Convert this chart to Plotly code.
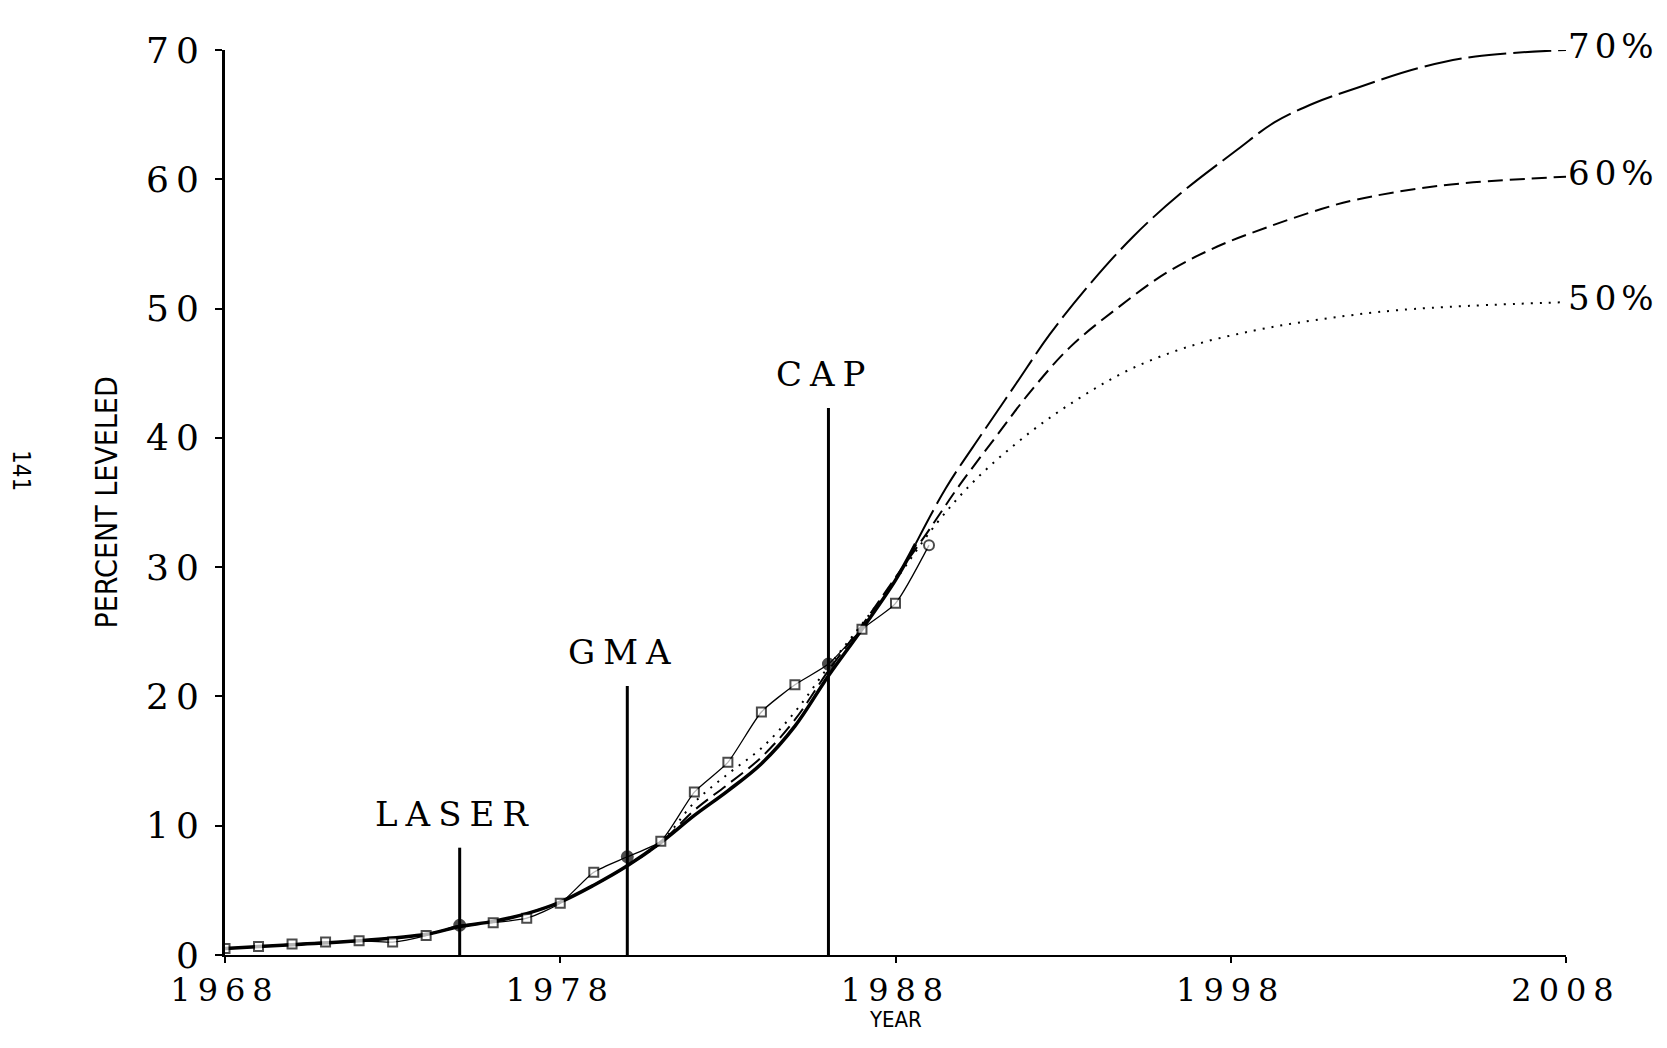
import plotly.graph_objects as go

# ---- data ----
data_years = list(range(1968, 1990))
data_pct = [0.5, 0.65, 0.85, 1.0, 1.1, 1.0, 1.5, 2.3, 2.5, 2.85, 4.0,
            6.4, 7.6, 8.8, 12.6, 14.9, 18.8, 20.9, 22.5, 25.2, 27.2, 31.7]

event_names = ["LASER", "GMA", "CAP"]
event_years = [1975, 1980, 1986]
event_tops = [8.3, 20.8, 42.3]

fit70_years = [1968, 1970, 1972, 1974, 1975, 1976, 1977, 1978, 1979, 1980, 1981,
               1982, 1983, 1984, 1985, 1986, 1987, 1988, 1988.6, 1989.5, 1990.6,
               1991.6, 1992.6, 1993.8, 1995.1, 1996.5, 1998.2, 1999.3, 2000.5,
               2001.8, 2003.6, 2005.3, 2008]
fit70_pct = [0.5, 0.8, 1.1, 1.6, 2.2, 2.6, 3.2, 4.1, 5.4, 6.9, 8.7,
             10.8, 12.7, 14.8, 17.7, 21.6, 25.2, 29.0, 31.8, 36.1, 40.4,
             44.2, 48.0, 51.9, 55.6, 58.9, 62.3, 64.4, 65.9,
             67.1, 68.6, 69.5, 70.0]
fit70_solid_end = 1988.6

fit60_years = [1968, 1970, 1972, 1974, 1975, 1976, 1977, 1978, 1979, 1980, 1981,
               1982, 1983, 1984, 1985, 1986, 1987, 1988, 1988.9, 1989.9, 1991.0,
               1992.0, 1993.2, 1994.6, 1996.1, 1997.6, 1999.1, 2000.7, 2001.7,
               2004.2, 2008]
fit60_pct = [0.5, 0.8, 1.1, 1.6, 2.2, 2.6, 3.2, 4.1, 5.4, 6.9, 8.7,
             11.2, 13.2, 15.3, 18.2, 22.0, 25.5, 29.2, 32.5, 36.3, 40.1,
             43.5, 47.0, 50.0, 52.8, 54.8, 56.3, 57.7, 58.4,
             59.5, 60.2]

fit50_years = [1968, 1970, 1972, 1974, 1975, 1976, 1977, 1978, 1979, 1980, 1981,
               1982, 1983, 1984, 1985, 1986, 1987, 1988, 1989.2, 1990.4, 1992.0,
               1993.5, 1995.0, 1996.8, 1998.7, 2000.5, 2003.1, 2008]
fit50_pct = [0.5, 0.8, 1.1, 1.6, 2.2, 2.6, 3.2, 4.1, 5.4, 6.9, 8.7,
             11.8, 14.0, 16.0, 18.8, 22.3, 25.6, 29.0, 33.3, 36.8, 40.4,
             43.1, 45.3, 47.1, 48.3, 49.1, 49.9, 50.5]

ceiling_labels = ["70%", "60%", "50%"]
x_ticks = [1968, 1978, 1988, 1998, 2008]
y_ticks = [0, 10, 20, 30, 40, 50, 60, 70]

SERIF = "DejaVu Serif, Liberation Serif, serif"
NARROW = "Liberation Sans Narrow, DejaVu Sans Condensed, Roboto, sans-serif"


def spaced(text, px):
    return '<span style="letter-spacing:%dpx">%s</span>' % (px, text)


fig = go.Figure()

# forecast curves
fig.add_trace(go.Scatter(x=fit50_years, y=fit50_pct, mode="lines",
                         line=dict(color="black", width=2, dash="2px,7px", shape="spline"),
                         hoverinfo="skip"))
fig.add_trace(go.Scatter(x=fit60_years, y=fit60_pct, mode="lines",
                         line=dict(color="black", width=2, dash="15px,7px", shape="spline"),
                         hoverinfo="skip"))
i_split = fit70_years.index(fit70_solid_end)
fig.add_trace(go.Scatter(x=fit70_years[i_split:], y=fit70_pct[i_split:], mode="lines",
                         line=dict(color="black", width=2, dash="38px,7px", shape="spline"),
                         hoverinfo="skip", cliponaxis=False))
fig.add_trace(go.Scatter(x=fit70_years[:i_split + 1], y=fit70_pct[:i_split + 1], mode="lines",
                         line=dict(color="black", width=3.5, shape="spline"),
                         hoverinfo="skip"))

# event vertical lines
for name, yr, top in zip(event_names, event_years, event_tops):
    fig.add_trace(go.Scatter(x=[yr, yr], y=[0, top], mode="lines",
                             line=dict(color="black", width=3), hoverinfo="skip"))
    fig.add_annotation(x=yr, y=top, text=spaced(name, 8), showarrow=False,
                       xanchor="center", yanchor="bottom", yshift=12, xshift=-4,
                       font=dict(family=SERIF, size=34, color="black"))

# observed data
symbols = []
fills = []
sizes = []
for yr in data_years:
    if yr in event_years:
        symbols.append("circle"); fills.append("black"); sizes.append(11)
    elif yr == data_years[-1]:
        symbols.append("circle"); fills.append("white"); sizes.append(10)
    else:
        symbols.append("square"); fills.append("white"); sizes.append(9)

fig.add_trace(go.Scatter(x=data_years, y=data_pct, mode="lines+markers",
                         line=dict(color="black", width=1.3, shape="spline", smoothing=0.6),
                         marker=dict(symbol=symbols, color=fills, size=sizes,
                                     line=dict(color="black", width=2)),
                         hoverinfo="x+y"))

# ceiling labels at curve ends
for lab, yrs, vals in zip(ceiling_labels,
                          [fit70_years, fit60_years, fit50_years],
                          [fit70_pct, fit60_pct, fit50_pct]):
    fig.add_annotation(x=yrs[-1], y=vals[-1], text=spaced(lab, 5), showarrow=False,
                       xanchor="left", yanchor="middle", xshift=0, yshift=4,
                       font=dict(family=SERIF, size=34, color="black"))

# axis titles & page number
fig.add_annotation(xref="paper", yref="paper", x=0.5, y=0, text="YEAR", showarrow=False,
                   xanchor="center", yanchor="top", yshift=-50,
                   font=dict(family=NARROW, size=22, color="black"))
fig.add_annotation(xref="paper", yref="paper", x=0, y=0.5, text="PERCENT LEVELED",
                   showarrow=False, textangle=-90, xanchor="center", yanchor="middle",
                   xshift=-119, font=dict(family=NARROW, size=30, color="black"))
fig.add_annotation(xref="paper", yref="paper", x=0, y=0.536, text="141",
                   showarrow=False, textangle=90, xanchor="center", yanchor="middle",
                   xshift=-204, font=dict(family=NARROW, size=24, color="black"))

# page body has an 8px margin: size the figure so the plot area lands where the reference has it
fig.update_layout(
    width=1651, height=1032,
    margin=dict(l=217, r=93, t=42, b=85),
    paper_bgcolor="white", plot_bgcolor="white",
    showlegend=False,
    xaxis=dict(range=[1968, 2008], tickmode="array", tickvals=x_ticks,
               ticktext=[spaced(str(t), 7) for t in x_ticks],
               showline=True, linecolor="black", linewidth=2,
               ticks="outside", ticklen=6, tickwidth=1.5, tickcolor="black",
               showgrid=False, zeroline=False, ticklabelstandoff=0,
               tickfont=dict(family=SERIF, size=32, color="black")),
    yaxis=dict(range=[0, 70], tickmode="array", tickvals=y_ticks,
               ticktext=[spaced(str(t), 7) for t in y_ticks],
               showline=True, linecolor="black", linewidth=3,
               ticks="outside", ticklen=7, tickwidth=1.5, tickcolor="black",
               showgrid=False, zeroline=False, ticklabelstandoff=2,
               tickfont=dict(family=SERIF, size=36, color="black")),
)

fig.write_html("out.html")
